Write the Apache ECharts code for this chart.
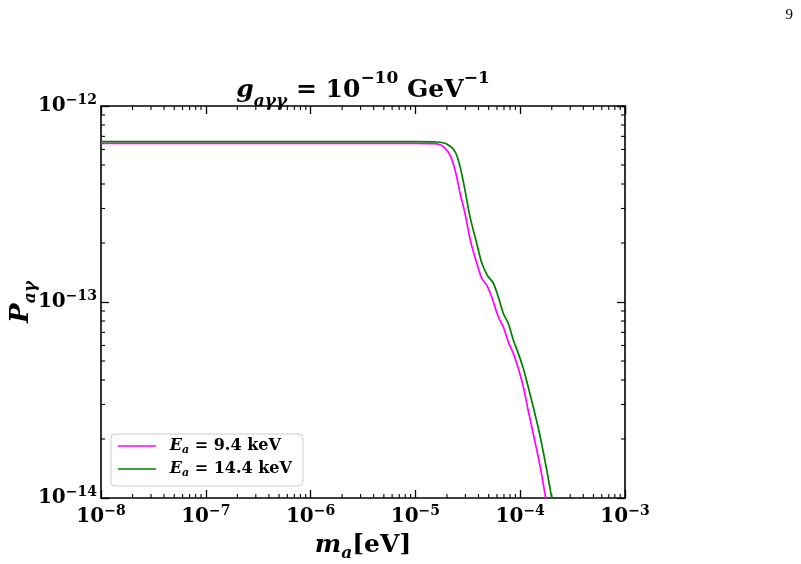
<!DOCTYPE html>
<html>
<head>
<meta charset="utf-8">
<script src="https://cdn.jsdelivr.net/npm/echarts@6/dist/echarts.min.js"></script>
<style>
  html, body { margin: 0; padding: 0; background: #fff; }
  #main { width: 801px; height: 564px; }
</style>
</head>
<body>
<div id="main"></div>
<script>
// axion mass [eV] and conversion probability
const mass94 = [1e-8, 1e-7, 1e-6, 1e-5, 1.5e-5, 1.7e-5, 1.85e-5, 2.14e-5, 2.39e-5, 2.67e-5, 2.97e-5,
  3.4e-5, 3.85e-5, 4.3e-5, 4.79e-5, 5.35e-5, 6.18e-5, 6.9e-5, 7.69e-5, 8.59e-5, 9.59e-5,
  1.07e-4, 1.19e-4, 1.33e-4, 1.55e-4, 1.76e-4]
const prob94 = [6.45e-13, 6.45e-13, 6.45e-13, 6.45e-13, 6.43e-13, 6.36e-13, 6.2e-13, 5.62e-13, 4.71e-13, 3.59e-13, 2.84e-13,
  1.99e-13, 1.58e-13, 1.32e-13, 1.22e-13, 1.06e-13, 8.41e-14, 7.48e-14, 6.27e-14, 5.47e-14, 4.59e-14,
  3.7e-14, 2.81e-14, 2.14e-14, 1.45e-14, 9.8e-15]

const mass144 = [1e-8, 1e-7, 1e-6, 1e-5, 1.6e-5, 1.99e-5, 2.39e-5, 2.67e-5, 2.97e-5, 3.32e-5,
  3.85e-5, 4.3e-5, 4.85e-5, 5.53e-5, 6.18e-5, 6.9e-5, 7.69e-5, 8.59e-5, 9.59e-5,
  1.07e-4, 1.19e-4, 1.38e-4, 1.55e-4, 1.79e-4, 2.02e-4]
const prob144 = [6.58e-13, 6.58e-13, 6.58e-13, 6.58e-13, 6.55e-13, 6.4e-13, 5.85e-13, 4.89e-13, 3.73e-13, 2.72e-13,
  1.99e-13, 1.58e-13, 1.37e-13, 1.25e-13, 1.06e-13, 8.75e-14, 7.78e-14, 6.4e-14, 5.47e-14,
  4.59e-14, 3.7e-14, 2.7e-14, 2.06e-14, 1.39e-14, 9.7e-15]

const xTickExps = [-8, -7, -6, -5, -4, -3]
const yTickExps = [-14, -13, -12]
const seriesNames = ['E_a = 9.4 keV', 'E_a = 14.4 keV']
const legendLabels = ['{gap|}{e|E}{sub|a}{t| = 9.4 keV}', '{gap|}{e|E}{sub|a}{t| = 14.4 keV}']

const SERIF = "'DejaVu Serif', 'Liberation Serif', serif"

// minor tick positions 2..9 x 10^k
function minorTicks(exps) {
  const out = []
  for (let i = 0; i < exps.length - 1; i++) {
    for (let d = 2; d <= 9; d++) out.push(d * Math.pow(10, exps[i]))
  }
  return out
}
const xMinor = minorTicks(xTickExps)
const yMinor = minorTicks(yTickExps)

const tickRich = {
  b: { fontFamily: SERIF, fontWeight: 'bold', fontSize: 20, lineHeight: 26, color: '#000' },
  s: { fontFamily: SERIF, fontWeight: 'bold', fontSize: 14, lineHeight: 16, verticalAlign: 'top', color: '#000' }
}
function powLabel(v) {
  const e = Math.round(Math.log10(v))
  return '{b|10}{s|−' + Math.abs(e) + '}'
}

const axisLine = { lineStyle: { color: '#000', width: 1.6 } }
const axisTick = { inside: true, length: 8, lineStyle: { color: '#000', width: 1.3 } }

function minorSeries(values, isX) {
  return {
    type: 'custom',
    silent: true,
    clip: false,
    data: values.map(v => isX ? [v, 1e-13] : [1e-6, v]),
    renderItem: function(params, api) {
      const cs = params.coordSys
      const p = api.coord([api.value(0), api.value(1)])
      const st = { stroke: '#000', lineWidth: 1.1 }
      let a, b
      if (isX) {
        const bot = cs.y + cs.height
        a = { x1: p[0], y1: bot, x2: p[0], y2: bot - 4 }
        b = { x1: p[0], y1: cs.y, x2: p[0], y2: cs.y + 4 }
      } else {
        const r = cs.x + cs.width
        a = { x1: cs.x, y1: p[1], x2: cs.x + 4, y2: p[1] }
        b = { x1: r, y1: p[1], x2: r - 4, y2: p[1] }
      }
      return {
        type: 'group',
        children: [
          { type: 'line', shape: a, style: st },
          { type: 'line', shape: b, style: st }
        ]
      }
    }
  }
}

const chart = echarts.init(document.getElementById('main'), null, { renderer: 'canvas' })
const xMin = Math.pow(10, xTickExps[0])
const xMax = Math.pow(10, xTickExps[xTickExps.length - 1])
const yMin = Math.pow(10, yTickExps[0])
const yMax = Math.pow(10, yTickExps[yTickExps.length - 1])

const option = {
  backgroundColor: '#fff',
  animation: false,
  title: {
    text: '{g|g}{sub|aγγ}{n| = 10}{sup|−10}{n| GeV}{sup|−1}',
    left: 363,
    top: 70,
    padding: 0,
    textAlign: 'center',
    textStyle: {
      rich: {
        g: { fontFamily: SERIF, fontWeight: 'bold', fontStyle: 'italic', fontSize: 25, lineHeight: 40, color: '#000' },
        n: { fontFamily: SERIF, fontWeight: 'bold', fontSize: 25, lineHeight: 40, color: '#000' },
        sub: { fontFamily: SERIF, fontWeight: 'bold', fontStyle: 'italic', fontSize: 17, lineHeight: 26, verticalAlign: 'bottom', color: '#000' },
        sup: { fontFamily: SERIF, fontWeight: 'bold', fontSize: 17, lineHeight: 24, verticalAlign: 'top', color: '#000' }
      }
    }
  },
  graphic: [
    { type: 'text', right: 8, top: 8, style: { text: '9', font: "15px 'Liberation Serif', serif", fill: '#000' } }
  ],
  legend: {
    data: seriesNames,
    orient: 'vertical',
    left: 111,
    top: 434,
    padding: [4, 11, 7, 6],
    itemGap: 5,
    itemWidth: 38,
    itemHeight: 20,
    itemStyle: { opacity: 0 },
    lineStyle: { width: 1.7 },
    backgroundColor: 'rgba(255,255,255,0.8)',
    borderColor: '#cccccc',
    borderWidth: 1,
    borderRadius: 4,
    formatter: function(name) {
      return legendLabels[seriesNames.indexOf(name)]
    },
    textStyle: {
      rich: {
        gap: { width: 9, lineHeight: 20 },
        e: { fontFamily: SERIF, fontWeight: 'bold', fontStyle: 'italic', fontSize: 16, lineHeight: 20, color: '#000' },
        sub: { fontFamily: SERIF, fontWeight: 'bold', fontStyle: 'italic', fontSize: 11, lineHeight: 14, verticalAlign: 'bottom', color: '#000' },
        t: { fontFamily: SERIF, fontWeight: 'bold', fontSize: 16, lineHeight: 20, color: '#000' }
      }
    }
  },
  grid: { left: 101, right: 176, top: 106, bottom: 66, containLabel: false, outerBoundsMode: 'none' },
  xAxis: [
    {
      type: 'log', logBase: 10, min: xMin, max: xMax, position: 'bottom',
      axisLine, axisTick, splitLine: { show: false },
      axisLabel: { margin: 6, formatter: powLabel, rich: tickRich },
      name: '{m|m}{sub|a}{u|[eV]}',
      nameLocation: 'middle',
      nameGap: 30,
      nameMoveOverlap: false,
      nameTextStyle: {
        rich: {
          m: { fontFamily: SERIF, fontWeight: 'bold', fontStyle: 'italic', fontSize: 25, lineHeight: 34, color: '#000' },
          sub: { fontFamily: SERIF, fontWeight: 'bold', fontStyle: 'italic', fontSize: 17, lineHeight: 24, verticalAlign: 'bottom', color: '#000' },
          u: { fontFamily: SERIF, fontWeight: 'bold', fontSize: 25, lineHeight: 34, color: '#000' }
        }
      }
    },
    {
      type: 'log', logBase: 10, min: xMin, max: xMax, position: 'top',
      axisLine, axisTick, splitLine: { show: false }, axisLabel: { show: false }
    }
  ],
  yAxis: [
    {
      type: 'log', logBase: 10, min: yMin, max: yMax, position: 'left',
      axisLine, axisTick, splitLine: { show: false },
      axisLabel: { margin: 4, formatter: powLabel, rich: tickRich },
      name: '{p|P}{sub|aγ}',
      nameLocation: 'middle',
      nameRotate: 90,
      nameGap: 62,
      nameMoveOverlap: false,
      nameTextStyle: {
        rich: {
          p: { fontFamily: SERIF, fontWeight: 'bold', fontStyle: 'italic', fontSize: 26, lineHeight: 36, color: '#000' },
          sub: { fontFamily: SERIF, fontWeight: 'bold', fontStyle: 'italic', fontSize: 17, lineHeight: 22, verticalAlign: 'bottom', color: '#000' }
        }
      }
    },
    {
      type: 'log', logBase: 10, min: yMin, max: yMax, position: 'right',
      axisLine, axisTick, splitLine: { show: false }, axisLabel: { show: false }
    }
  ],
  series: [
    {
      name: seriesNames[0],
      type: 'line',
      data: mass94.map((m, i) => [m, prob94[i]]),
      showSymbol: false,
      symbol: 'none',
      smooth: 0.3,
      lineStyle: { color: '#ff00ff', width: 1.7 },
      itemStyle: { color: '#ff00ff' },
      xAxisIndex: 0, yAxisIndex: 0
    },
    {
      name: seriesNames[1],
      type: 'line',
      data: mass144.map((m, i) => [m, prob144[i]]),
      showSymbol: false,
      symbol: 'none',
      smooth: 0.3,
      lineStyle: { color: '#008000', width: 1.7 },
      itemStyle: { color: '#008000' },
      xAxisIndex: 0, yAxisIndex: 0
    },
    minorSeries(xMinor, true),
    minorSeries(yMinor, false)
  ]
}
chart.setOption(option)
</script>
</body>
</html>
